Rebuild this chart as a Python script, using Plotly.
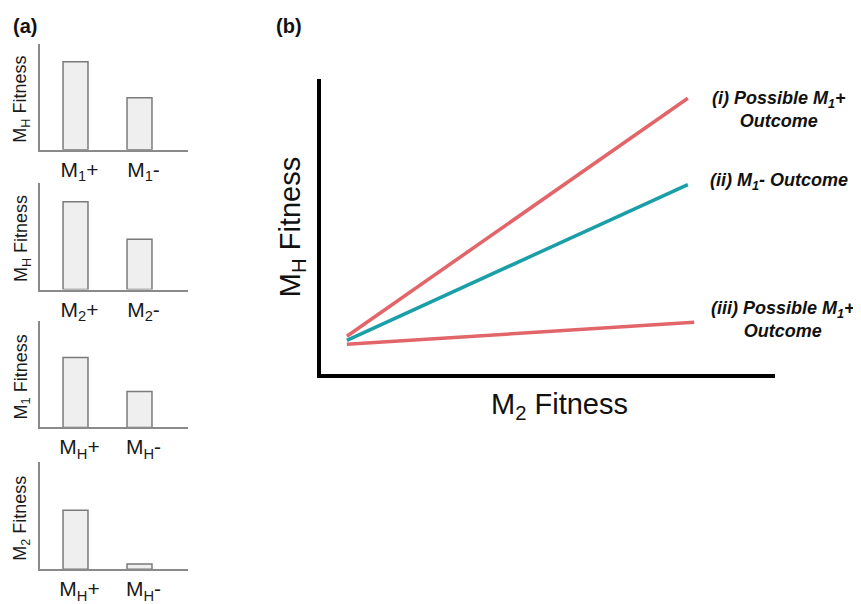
import plotly.graph_objects as go

# ---- Panel (a) data ----
panel_a_titles = ["M<sub>H</sub> Fitness", "M<sub>H</sub> Fitness", "M<sub>1</sub> Fitness", "M<sub>2</sub> Fitness"]
panel_a_cats = [
    ["M<sub>1</sub>+", "M<sub>1</sub>-"],
    ["M<sub>2</sub>+", "M<sub>2</sub>-"],
    ["M<sub>H</sub>+", "M<sub>H</sub>-"],
    ["M<sub>H</sub>+", "M<sub>H</sub>-"],
]
panel_a_vals = [
    [0.83, 0.49],
    [0.82, 0.47],
    [0.66, 0.34],
    [0.55, 0.05],
]

# ---- Panel (b) data ----
line_x = [0.57, 8.08]
line_i_y = [1.28, 9.36]
line_ii_y = [1.14, 6.43]
line_iii_x = [0.57, 8.22]
line_iii_y = [1.01, 1.75]

RED = "#E2656A"
TEAL = "#1A9FA8"
FONT = "Liberation Sans, Arial, sans-serif"

OFF = 8  # page body margin
W, H = 861 - OFF, 604 - OFF


def px_x(p):
    return (p - OFF) / W


def px_y(p):
    return 1 - (p - OFF) / H


fig = go.Figure()

a_rows = [(44, 151), (184, 292), (324, 431), (466, 574)]
a_left, a_right = 40, 188

annotations = []
for i, (top, base) in enumerate(a_rows):
    n = i + 1
    xa = "x" if n == 1 else f"x{n}"
    ya = "y" if n == 1 else f"y{n}"
    fig.add_trace(go.Bar(
        x=panel_a_cats[i], y=panel_a_vals[i], xaxis=xa, yaxis=ya,
        width=0.39,
        marker=dict(color="#EFEFEF", line=dict(color="#7A7A7A", width=1.5)),
        showlegend=False, hoverinfo="skip",
    ))
    xkey = "xaxis" if n == 1 else f"xaxis{n}"
    ykey = "yaxis" if n == 1 else f"yaxis{n}"
    fig.update_layout(**{
        xkey: dict(domain=[px_x(a_left), px_x(a_right)], anchor=ya,
                   type="category", range=[-0.555, 1.758],
                   showline=True, linecolor="#8A8A8A", linewidth=1.5,
                   showgrid=False, zeroline=False, ticks="",
                   ticklabelshift=4,
                   tickfont=dict(size=21, color="#1A1A1A", family=FONT)),
        ykey: dict(domain=[px_y(base), px_y(top)], anchor=xa,
                   range=[0, 1], showline=True, linecolor="#8A8A8A", linewidth=1.5,
                   showgrid=False, zeroline=False, showticklabels=False, ticks=""),
    })
    annotations.append(dict(
        text=panel_a_titles[i], x=px_x(22), y=px_y((top + base) / 2 + 3), textangle=-90,
        font=dict(size=18, color="#1A1A1A", family=FONT),
    ))

fig.add_trace(go.Scatter(x=line_x, y=line_i_y, mode="lines", xaxis="x5", yaxis="y5",
                         line=dict(color=RED, width=3.5), showlegend=False, hoverinfo="skip"))
fig.add_trace(go.Scatter(x=line_x, y=line_ii_y, mode="lines", xaxis="x5", yaxis="y5",
                         line=dict(color=TEAL, width=3.5), showlegend=False, hoverinfo="skip"))
fig.add_trace(go.Scatter(x=line_iii_x, y=line_iii_y, mode="lines", xaxis="x5", yaxis="y5",
                         line=dict(color=RED, width=3.5), showlegend=False, hoverinfo="skip"))

fig.update_layout(
    xaxis5=dict(domain=[px_x(321), px_x(775)], anchor="y5", range=[0, 10],
                showline=True, linecolor="black", linewidth=4, showgrid=False,
                zeroline=False, showticklabels=False, ticks=""),
    yaxis5=dict(domain=[px_y(377), px_y(80)], anchor="x5", range=[0, 10],
                showline=True, linecolor="black", linewidth=4, showgrid=False,
                zeroline=False, showticklabels=False, ticks=""),
)

ann_font = dict(size=18, color="#111", family=FONT, weight="bold", style="italic")
annotations += [
    dict(text="M<sub>H</sub> Fitness", x=px_x(292), y=px_y(229), textangle=-90,
         font=dict(size=29, color="#111", family=FONT)),
    dict(text="M<sub>2</sub> Fitness", x=px_x(559), y=px_y(409),
         font=dict(size=29, color="#111", family=FONT)),
    dict(text="(i) Possible M<sub>1</sub>+<br>Outcome", x=px_x(779), y=px_y(110),
         align="center", font=ann_font),
    dict(text="(ii) M<sub>1</sub>- Outcome", x=px_x(779), y=px_y(183),
         align="center", font=ann_font),
    dict(text="(iii) Possible M<sub>1</sub>+<br>Outcome", x=px_x(783), y=px_y(322),
         align="center", font=ann_font),
    dict(text="<b>(a)</b>", x=px_x(25), y=px_y(26), font=dict(size=20, color="#111", family=FONT)),
    dict(text="<b>(b)</b>", x=px_x(289), y=px_y(26), font=dict(size=20, color="#111", family=FONT)),
]
for a in annotations:
    a["xref"] = "paper"
    a["yref"] = "paper"
    a["showarrow"] = False
    a["xanchor"] = "center"
    a["yanchor"] = "middle"

fig.update_layout(
    width=W, height=H, margin=dict(l=0, r=0, t=0, b=0),
    paper_bgcolor="white", plot_bgcolor="white",
    annotations=annotations, font=dict(family=FONT),
)

fig.write_html("out.html")
